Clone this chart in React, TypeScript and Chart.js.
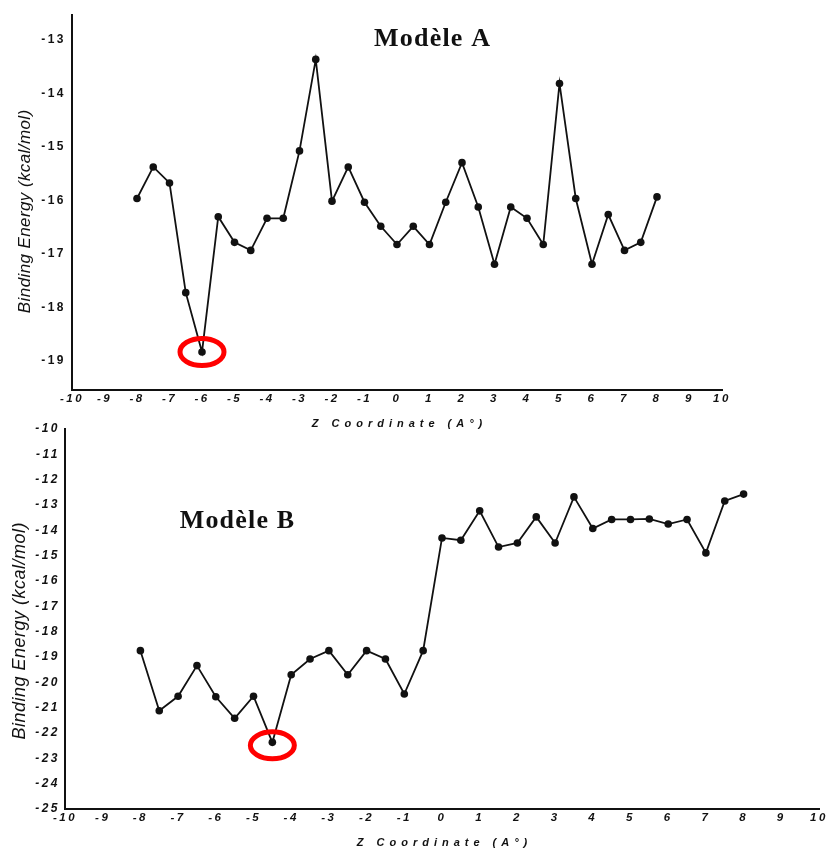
import React, { useEffect, useRef } from 'react';
import { Chart, registerables } from 'chart.js';

Chart.register(...registerables);

// ---- Data ----
const zCoordinates = [
  -8, -7.5, -7, -6.5, -6, -5.5, -5, -4.5, -4, -3.5, -3, -2.5, -2, -1.5, -1, -0.5,
  0, 0.5, 1, 1.5, 2, 2.5, 3, 3.5, 4, 4.5, 5, 5.5, 6, 6.5, 7, 7.5, 8,
];

const energyModelA = [
  -15.96, -15.37, -15.67, -17.72, -18.83, -16.3, -16.78, -16.93, -16.33, -16.33, -15.07,
  -13.36, -16.01, -15.37, -16.03, -16.48, -16.82, -16.48, -16.82, -16.03, -15.29, -16.12,
  -17.19, -16.12, -16.33, -16.82, -13.81, -15.96, -17.19, -16.26, -16.93, -16.78, -15.93,
];

const energyModelB = [
  -18.75, -21.12, -20.55, -19.34, -20.57, -21.42, -20.55, -22.37, -19.7, -19.08, -18.75,
  -19.7, -18.75, -19.08, -20.46, -18.75, -14.3, -14.39, -13.23, -14.66, -14.5, -13.47,
  -14.5, -12.68, -13.93, -13.57, -13.57, -13.55, -13.75, -13.57, -14.89, -12.84, -12.57,
];

const xTickValues = [-10, -9, -8, -7, -6, -5, -4, -3, -2, -1, 0, 1, 2, 3, 4, 5, 6, 7, 8, 9, 10];
const yTickValuesA = [-19, -18, -17, -16, -15, -14, -13];
const yTickValuesB = [-25, -24, -23, -22, -21, -20, -19, -18, -17, -16, -15, -14, -13, -12, -11, -10];

const titleA = 'Modèle A';
const titleB = 'Modèle B';
const xAxisTitle = 'Z Coordinate (A°)';
const yAxisTitleA = 'Binding Energy (kcal/mol)';
const yAxisTitleB = 'Binding Energy (kcal/mol)';

const SANS = '"Liberation Sans", Arial, sans-serif';
const SERIF = '"Liberation Serif", "Times New Roman", serif';
const INK = '#111111';

type PanelCfg = {
  top: number;
  height: number;
  values: number[];
  yMin: number;
  yMax: number;
  yTicks: number[];
  padTop: number;
  padRight: number;
  yWidth: number;
  xHeight: number;
  yTickItalic: boolean;
  yTickPad: number;
  title: string;
  titleAt: [number, number];
  yTitle: string;
  yTitleX: number;
  yTitleDy: number;
  yTitleSize: number;
  yTitleSpacing: number;
  ellipseDy: number;
};

function drawSpaced(
  ctx: CanvasRenderingContext2D,
  text: string,
  x: number,
  y: number,
  font: string,
  spacing: number,
  baseline: CanvasTextBaseline,
  rotate = 0
) {
  ctx.save();
  ctx.font = font;
  (ctx as any).letterSpacing = spacing + 'px';
  ctx.fillStyle = INK;
  ctx.textBaseline = baseline;
  ctx.textAlign = 'left';
  const w = ctx.measureText(text).width - spacing;
  ctx.translate(x, y);
  if (rotate) ctx.rotate(rotate);
  ctx.fillText(text, -w / 2, 0);
  ctx.restore();
}

function Panel({ cfg }: { cfg: PanelCfg }) {
  const ref = useRef<HTMLCanvasElement | null>(null);

  useEffect(() => {
    const canvas = ref.current;
    if (!canvas) return;

    const spacingPlugin = {
      id: 'spacing',
      beforeDraw(chart: any) {
        (chart.ctx as any).letterSpacing = '2.5px';
      },
      afterDraw(chart: any) {
        const ctx: CanvasRenderingContext2D = chart.ctx;
        const area = chart.chartArea;
        const xs = chart.scales.x;
        const ys = chart.scales.y;
        (ctx as any).letterSpacing = '0px';

        // model title
        drawSpaced(
          ctx,
          cfg.title,
          xs.getPixelForValue(cfg.titleAt[0]),
          ys.getPixelForValue(cfg.titleAt[1]),
          `bold 26px ${SERIF}`,
          1.2,
          'alphabetic'
        );

        // x axis title
        drawSpaced(
          ctx,
          xAxisTitle,
          (area.left + area.right) / 2,
          area.bottom + 34,
          `italic bold 11px ${SANS}`,
          5,
          'middle'
        );

        // y axis title
        drawSpaced(
          ctx,
          cfg.yTitle,
          cfg.yTitleX,
          (area.top + area.bottom) / 2 + cfg.yTitleDy,
          `italic ${cfg.yTitleSize}px ${SANS}`,
          cfg.yTitleSpacing,
          'middle',
          -Math.PI / 2
        );

        // red ellipse around minimum
        let minIdx = 0;
        cfg.values.forEach((v, i) => {
          if (v < cfg.values[minIdx]) minIdx = i;
        });
        const px = xs.getPixelForValue(zCoordinates[minIdx]);
        const py = ys.getPixelForValue(cfg.values[minIdx]) + cfg.ellipseDy;
        ctx.save();
        ctx.beginPath();
        ctx.ellipse(px, py, 22, 13.5, 0, 0, Math.PI * 2);
        ctx.strokeStyle = '#ff0000';
        ctx.lineWidth = 5;
        ctx.stroke();
        ctx.restore();
      },
    };

    const chart = new Chart(canvas, {
      type: 'line',
      data: {
        datasets: [
          {
            data: zCoordinates.map((z, i) => ({ x: z, y: cfg.values[i] })),
            borderColor: INK,
            borderWidth: 1.8,
            backgroundColor: INK,
            pointBackgroundColor: INK,
            pointBorderColor: INK,
            pointRadius: 3.8,
            pointBorderWidth: 0,
            fill: false,
            tension: 0,
          },
        ],
      },
      options: {
        responsive: false,
        animation: false,
        devicePixelRatio: 1,
        layout: { padding: { top: cfg.padTop, right: cfg.padRight, bottom: 0, left: 0 } },
        plugins: {
          legend: { display: false },
          tooltip: { enabled: false },
          title: { display: false },
        },
        scales: {
          x: {
            type: 'linear',
            min: -10,
            max: 10,
            grid: { display: false },
            border: { display: true, color: INK, width: 2 },
            afterBuildTicks: (s: any) => {
              s.ticks = xTickValues.map((v) => ({ value: v }));
            },
            afterFit: (s: any) => {
              s.height = cfg.xHeight;
            },
            ticks: {
              autoSkip: false,
              maxRotation: 0,
              minRotation: 0,
              padding: -6,
              color: INK,
              font: { family: SANS, size: 11.5, style: 'italic', weight: 'bold' },
            },
          },
          y: {
            type: 'linear',
            min: cfg.yMin,
            max: cfg.yMax,
            grid: { display: false },
            border: { display: true, color: INK, width: 2 },
            afterBuildTicks: (s: any) => {
              s.ticks = cfg.yTicks.map((v) => ({ value: v }));
            },
            afterFit: (s: any) => {
              s.width = cfg.yWidth;
            },
            ticks: {
              autoSkip: false,
              padding: cfg.yTickPad,
              color: INK,
              font: {
                family: SANS,
                size: 12,
                style: cfg.yTickItalic ? 'italic' : 'normal',
                weight: 'bold',
              },
            },
          },
        },
      },
      plugins: [spacingPlugin],
    } as any);

    return () => chart.destroy();
  }, [cfg]);

  return (
    <canvas
      ref={ref}
      width={829}
      height={cfg.height}
      style={{ position: 'absolute', left: 0, top: cfg.top, width: 829, height: cfg.height }}
    />
  );
}

const panelA: PanelCfg = {
  top: 0,
  height: 430,
  values: energyModelA,
  yMin: -19.54,
  yMax: -12.53,
  yTicks: yTickValuesA,
  padTop: 15,
  padRight: 107,
  yWidth: 72,
  xHeight: 40,
  yTickItalic: false,
  yTickPad: -2,
  title: titleA,
  titleAt: [1.08, -13.11],
  yTitle: yAxisTitleA,
  yTitleX: 25,
  yTitleDy: 9,
  yTitleSize: 17,
  yTitleSpacing: 0.4,
  ellipseDy: 0,
};

const panelB: PanelCfg = {
  top: 400,
  height: 450,
  values: energyModelB,
  yMin: -25,
  yMax: -10,
  yTicks: yTickValuesB,
  padTop: 29,
  padRight: 10,
  yWidth: 65,
  xHeight: 41,
  yTickItalic: true,
  yTickPad: -3,
  title: titleB,
  titleAt: [-5.44, -13.92],
  yTitle: yAxisTitleB,
  yTitleX: 20,
  yTitleDy: 12,
  yTitleSize: 18,
  yTitleSpacing: 0.5,
  ellipseDy: 3,
};

export default function App() {
  return (
    <div
      style={{
        position: 'absolute',
        left: 0,
        top: 0,
        width: 829,
        height: 850,
        background: '#ffffff',
        overflow: 'hidden',
      }}
    >
      <Panel cfg={panelA} />
      <Panel cfg={panelB} />
    </div>
  );
}
